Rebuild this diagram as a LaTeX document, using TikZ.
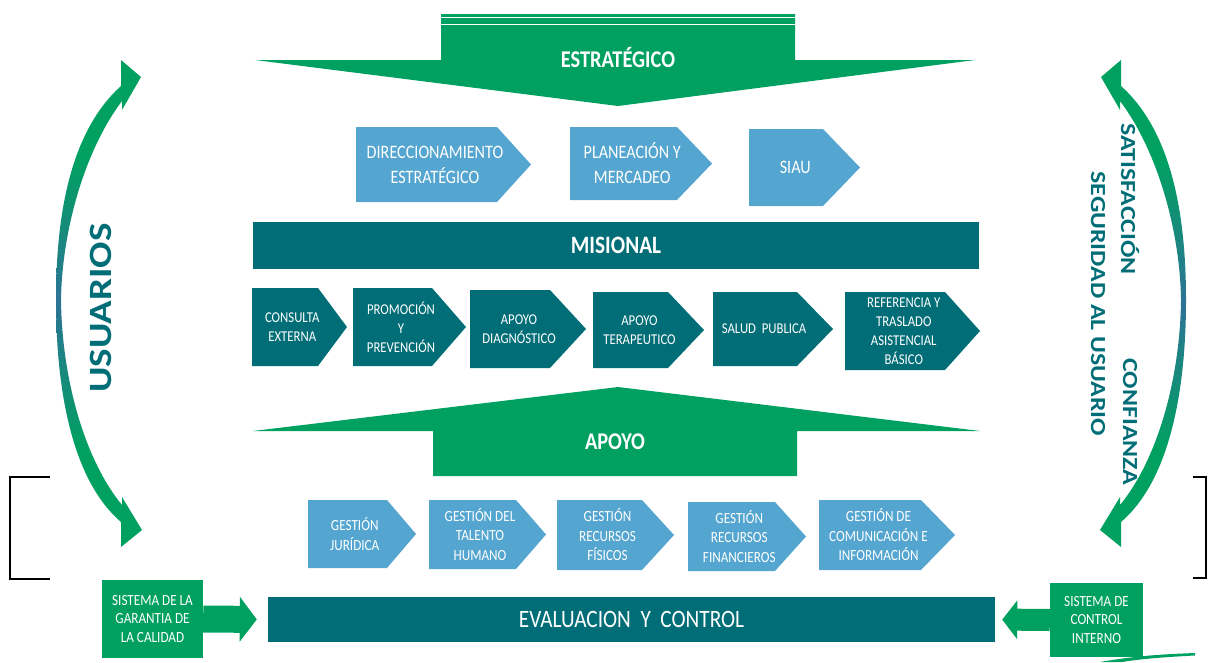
\documentclass[tikz,border=0pt]{standalone}
\usepackage{fontspec}
\setmainfont{Carlito}[FakeStretch=0.85]
\newfontfamily\vfont{Carlito}[FakeStretch=1.2]
\usetikzlibrary{arrows.meta}
\definecolor{agreen}{RGB}{0,161,96}
\definecolor{ateal}{RGB}{0,109,119}
\definecolor{ablue}{RGB}{84,165,208}
\definecolor{arcmid}{RGB}{45,115,150}
\pgfdeclareverticalshading{arcshade}{100bp}{color(0bp)=(agreen); color(35bp)=(agreen); color(50bp)=(arcmid); color(65bp)=(agreen); color(100bp)=(agreen)}
\newcommand\pent[9]{%
  \fill[#7] (#2,#3) -- (#4,#3) -- (#5,{(#3+#6)/2}) -- (#4,#6) -- (#2,#6) -- cycle;
  \node[txt,#8] (#1) at ({(2*#2+#4+#5)/4},{(#3+#6)/2}) {#9};}
\begin{document}
\begin{tikzpicture}[x=1pt,y=-1pt,
  txt/.style={text=white, align=center, inner sep=0pt},
  fa/.style={font=\fontsize{19}{25}\selectfont},
  fb/.style={font=\fontsize{15}{19}\selectfont},
  fc/.style={font=\fontsize{15.5}{19.5}\selectfont},
  fd/.style={font=\fontsize{15.5}{18.5}\selectfont},
  bar/.style={fill=ateal, text=white, inner sep=0pt},
  gbox/.style={fill=agreen, text=white, align=center, inner sep=0pt},
  vtxt/.style={text=ateal, inner sep=0pt},
  brk/.style={line width=1.6pt, black}]
\useasboundingbox (0,0) rectangle (1209,662);

% ESTRATEGICO arrow
\fill[agreen] (441,14) -- (795,14) -- (795,60) -- (975,60) -- (618,106) -- (255,60) -- (441,60) -- cycle;
\draw[white, line width=1.3pt] (441,17.5) -- (795,17.5);
\draw[white, line width=1.3pt] (441,24.5) -- (795,24.5);
\node[txt, font=\bfseries\fontsize{24}{24}\selectfont] (estr) at (618,57) {ESTRATÉGICO};

% row 1
\pent{dir}{356}{127}{497}{531}{202}{ablue}{fa}{DIRECCIONAMIENTO\\ESTRATÉGICO}
\pent{pla}{570}{127}{677}{712}{200}{ablue}{fa}{PLANEACIÓN Y\\MERCADEO}
\pent{siau}{749}{129}{823}{860}{206}{ablue}{fa}{SIAU}

% MISIONAL
\node[bar, minimum width=726pt, minimum height=47pt, font=\bfseries\fontsize{25}{25}\selectfont] (mis) at (616,245.5) {MISIONAL};

% row 2
\pent{ce}{252}{288}{318}{347}{366}{ateal}{fb}{CONSULTA\\EXTERNA}
\pent{pp}{353}{288}{432}{466}{366}{ateal}{fb}{PROMOCIÓN\\Y\\PREVENCIÓN}
\pent{ad}{470}{290}{550}{586}{368}{ateal}{fb}{APOYO\\DIAGNÓSTICO}
\pent{at}{593}{292}{668}{704}{368}{ateal}{fb}{APOYO\\TERAPEUTICO}
\pent{sp}{713}{292}{797}{833}{366}{ateal}{fb}{SALUD\ \ PUBLICA}
\pent{rt}{845}{292}{945}{980}{370}{ateal}{fb}{REFERENCIA Y\\TRASLADO\\ASISTENCIAL\\BÁSICO}

% APOYO arrow
\fill[agreen] (618,387) -- (980,431) -- (797,431) -- (797,476) -- (433,476) -- (433,431) -- (253,431) -- cycle;
\node[txt, font=\bfseries\fontsize{24}{24}\selectfont] (apoyo) at (615,442) {APOYO};

% row 3
\pent{gj}{308}{500}{387}{416}{568}{ablue}{fc}{GESTIÓN\\JURÍDICA}
\pent{gth}{429}{500}{516}{546}{569}{ablue}{fc}{GESTIÓN DEL\\TALENTO\\HUMANO}
\pent{grf}{557}{500}{642}{674}{570}{ablue}{fc}{GESTIÓN\\RECURSOS\\FÍSICOS}
\pent{grfi}{688}{502}{775}{806}{571}{ablue}{fc}{GESTIÓN\\RECURSOS\\FINANCIEROS}
\pent{gci}{819}{500}{921}{955}{570}{ablue}{fc}{GESTIÓN DE\\COMUNICACIÓN E\\INFORMACIÓN}

% brackets
\draw[brk] (50,477) -- (10,477) -- (10,579) -- (50,579);
\draw[brk] (1193,477) -- (1206,477) -- (1206,578) -- (1193,578);

% bottom
\node[gbox, fd, minimum width=101pt, minimum height=78pt] (sgc) at (152.5,619) {SISTEMA DE LA\\GARANTIA DE\\LA CALIDAD};
\node[gbox, fd, minimum width=93pt, minimum height=74pt] (sci) at (1096.5,620) {SISTEMA DE\\CONTROL\\INTERNO};
\node[bar, minimum width=727pt, minimum height=45pt, font=\fontsize{25}{25}\selectfont] (ev) at (631.5,619.5) {EVALUACION\ \ Y\ \ CONTROL};
\draw[agreen, line width=27pt, -{Triangle[width=44pt,length=17pt]}, shorten >=11pt] (sgc.east) -- (ev.west);
\draw[agreen, line width=22pt, -{Triangle[width=38pt,length=15pt]}, shorten >=7pt] (sci.west) -- (ev.east);

% curved arrows
\shade[shading=arcshade] (122,101) .. controls (85,150) and (62,230) .. (61,300) .. controls (62,380) and (85,460) .. (122,505) -- (122,497) -- (142,530) -- (121,547) -- (121,522) .. controls (72,480) and (56,390) .. (56,300) .. controls (56,210) and (72,130) .. (121,86) -- (121,60) -- (141,77) -- (122,110) -- cycle;
\shade[shading=arcshade] (1120,101) .. controls (1157,150) and (1180,230) .. (1181,300) .. controls (1180,380) and (1157,460) .. (1120,505) -- (1120,497) -- (1100,530) -- (1121,547) -- (1121,522) .. controls (1170,480) and (1186,390) .. (1186,300) .. controls (1186,210) and (1170,130) .. (1121,86) -- (1121,60) -- (1101,77) -- (1120,110) -- cycle;
\fill[agreen] (1100,662) .. controls (1140,655) and (1170,654) .. (1195,653) -- (1195,655.5) .. controls (1165,657) and (1140,659) .. (1122,662) -- cycle;

% vertical texts
\node[vtxt, rotate=90, font=\vfont\bfseries\fontsize{32.5}{32.5}\selectfont] (usu) at (101,308) {USUARIOS};
\node[vtxt, rotate=-90, font=\vfont\bfseries\fontsize{21.5}{21.5}\selectfont] (sat) at (1130,199) {SATISFACCIÓN};
\node[vtxt, rotate=-90, font=\vfont\bfseries\fontsize{21.5}{21.5}\selectfont] (conf) at (1130,422) {CONFIANZA};
\node[vtxt, rotate=-90, font=\vfont\bfseries\fontsize{21.5}{21.5}\selectfont] (seg) at (1098,304) {SEGURIDAD AL USUARIO};
\end{tikzpicture}
\end{document}
